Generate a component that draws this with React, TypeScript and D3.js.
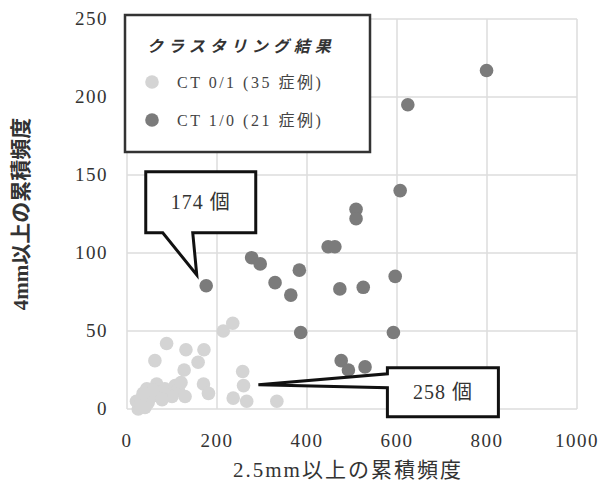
import React from 'react';
import * as d3 from 'd3';

const width = 604;
const height = 490;
const margin = { top: 19, right: 27, bottom: 81, left: 127 };

// CT 0/1 cluster (35 cases): [2.5mm cumulative, 4mm cumulative]
const ct01: [number, number][] = [
  [88, 42], [131, 38], [171, 38], [62, 31], [158, 30], [127, 25], [170, 16],
  [181, 10], [257, 24], [259, 15], [236, 7], [266, 5], [333, 5], [214, 50],
  [235, 55], [25, 0], [21, 5], [33, 7], [44, 13], [66, 16], [70, 10], [84, 13],
  [107, 15], [114, 12], [129, 8], [47, 4], [40, 1], [92, 9], [55, 8], [30, 3],
  [58, 12], [100, 8], [78, 6], [36, 10], [120, 17],
];

// CT 1/0 cluster (21 cases)
const ct10: [number, number][] = [
  [176, 79], [277, 97], [296, 93], [383, 89], [329, 81], [364, 73], [473, 77],
  [525, 78], [596, 85], [607, 140], [509, 128], [509, 122], [447, 104],
  [462, 104], [386, 49], [592, 49], [476, 31], [492, 25], [529, 27], [799, 217],
  [624, 195],
];

const xTicks = [0, 200, 400, 600, 800, 1000];
const yTicks = [0, 50, 100, 150, 200, 250];

const legendTitle = 'クラスタリング結果';
const legendLabels = ['CT 0/1 (35 症例)', 'CT 1/0 (21 症例)'];
const colors = ['#d4d4d4', '#7b7b7b'];

const serif = '"Liberation Serif", "Noto Sans CJK JP", serif';

export default function App() {
  const x = d3.scaleLinear().domain([0, 1000]).range([margin.left, width - margin.right]);
  const y = d3.scaleLinear().domain([0, 250]).range([height - margin.bottom, margin.top]);

  // callout 1: pointing at the 174 case
  const t1x = x(155), t1y = y(86);
  const b1 = { x0: t1x - 51, x1: t1x + 59, y0: t1y - 103, y1: t1y - 42 };
  const callout1 = `M${b1.x0},${b1.y0} H${b1.x1} V${b1.y1} H${b1.x0 + 47} L${t1x},${t1y} L${b1.x0 + 17},${b1.y1} H${b1.x0} Z`;

  // callout 2: pointing at the 258 case
  const t2x = x(292), t2y = y(15.5);
  const b2 = { x0: t2x + 129, x1: t2x + 240, y0: t2y - 17, y1: t2y + 32 };
  const callout2 = `M${b2.x0},${b2.y0} H${b2.x1} V${b2.y1} H${b2.x0} V${t2y + 3} L${t2x},${t2y} L${b2.x0},${t2y - 11} Z`;

  return (
    <div style={{ position: 'fixed', left: 0, top: 0 }}>
      <svg width={width} height={height} style={{ display: 'block', background: '#fff' }}>
        {/* grid */}
        <g stroke="#dcdcdc" strokeWidth={1.5}>
          {xTicks.map((t) => (
            <line key={'gx' + t} x1={x(t)} x2={x(t)} y1={y(0)} y2={y(250)} />
          ))}
          {yTicks.map((t) => (
            <line key={'gy' + t} x1={x(0)} x2={x(1000)} y1={y(t)} y2={y(t)} />
          ))}
        </g>

        {/* tick labels */}
        <g fontFamily={serif} fontSize={19} fill="#333" letterSpacing={1.5}>
          {xTicks.map((t) => (
            <text key={'tx' + t} x={x(t)} y={y(0) + 38} textAnchor="middle">{t}</text>
          ))}
          {yTicks.map((t) => (
            <text key={'ty' + t} x={x(0) - 19} y={y(t) + 6} textAnchor="end">{t}</text>
          ))}
        </g>

        {/* axis titles */}
        <text x={(x(0) + x(1000)) / 2 - 4} y={477} textAnchor="middle" fontFamily={serif} fontSize={21} letterSpacing={2} fill="#333">
          2.5mm以上の累積頻度
        </text>
        <text transform={`translate(28, 214) rotate(-90)`} textAnchor="middle" fontFamily={serif} fontSize={21} fontWeight="bold" fill="#333">
          4mm以上の累積頻度
        </text>

        {/* points */}
        {ct01.map((d, i) => (
          <circle key={'a' + i} cx={x(d[0])} cy={y(d[1])} r={6.8} fill={colors[0]} />
        ))}
        {ct10.map((d, i) => (
          <circle key={'b' + i} cx={x(d[0])} cy={y(d[1])} r={6.8} fill={colors[1]} />
        ))}

        {/* callouts */}
        <path d={callout1} fill="#fff" stroke="#111" strokeWidth={3} strokeLinejoin="miter" />
        <text x={(b1.x0 + b1.x1) / 2} y={(b1.y0 + b1.y1) / 2 + 7} textAnchor="middle" fontFamily={serif} fontSize={20} letterSpacing={1} fill="#333">174 個</text>
        <path d={callout2} fill="#fff" stroke="#111" strokeWidth={3} strokeLinejoin="miter" />
        <text x={(b2.x0 + b2.x1) / 2} y={(b2.y0 + b2.y1) / 2 + 7} textAnchor="middle" fontFamily={serif} fontSize={20} letterSpacing={1} fill="#333">258 個</text>

        {/* legend */}
        <g>
          <rect x={125} y={15} width={245} height={137} fill="#fff" stroke="#333" strokeWidth={2.5} />
          <text x={147} y={52} fontFamily={serif} fontSize={16} fontWeight="bold" fontStyle="italic" letterSpacing={5} fill="#333">
            {legendTitle}
          </text>
          {legendLabels.map((l, i) => (
            <g key={l}>
              <circle cx={152} cy={82 + i * 38} r={6.8} fill={colors[i]} />
              <text x={177} y={88 + i * 38} fontFamily={serif} fontSize={16} letterSpacing={2.5} fill="#444">{l}</text>
            </g>
          ))}
        </g>
      </svg>
    </div>
  );
}
